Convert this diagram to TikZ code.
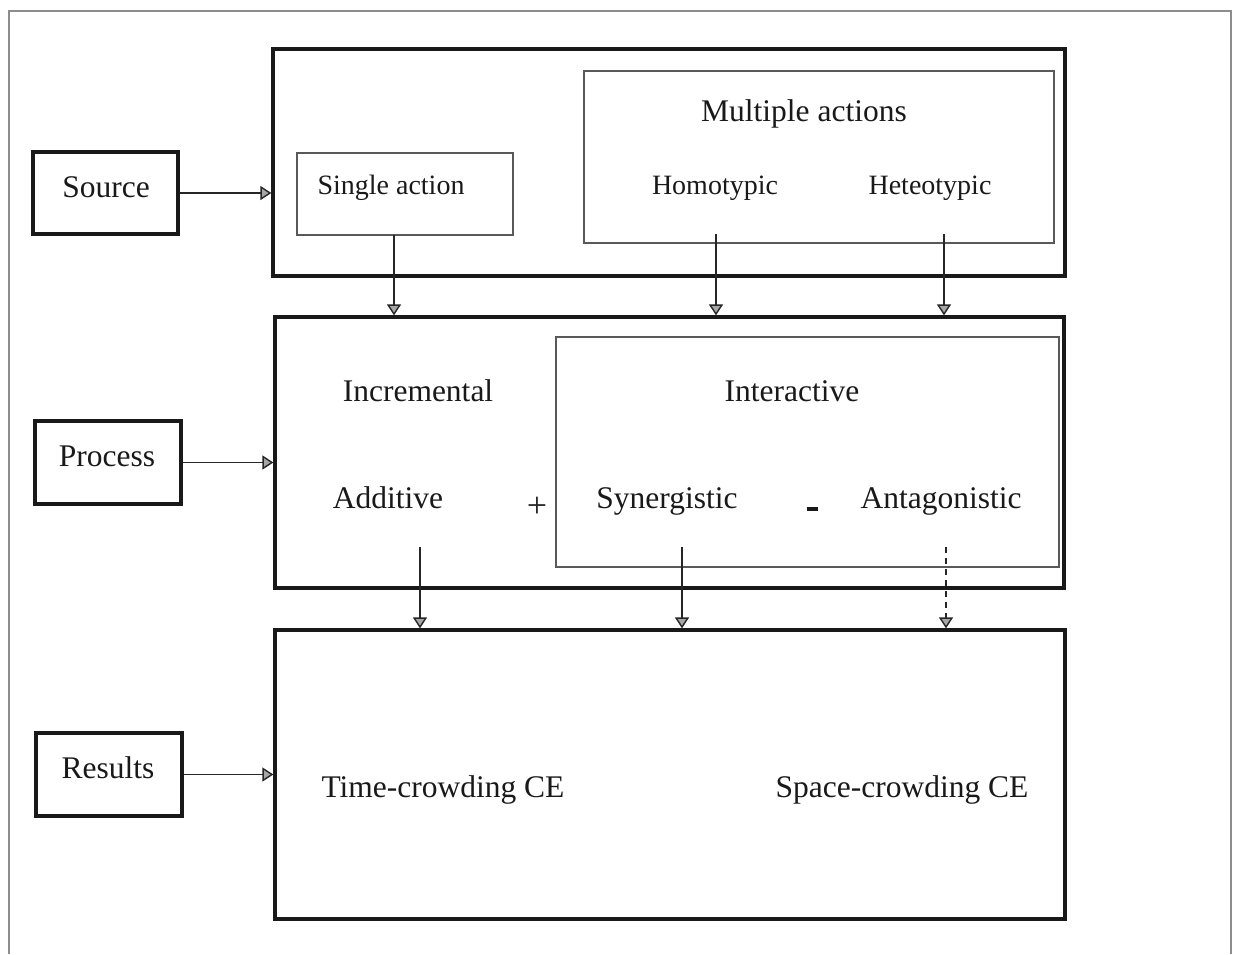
\documentclass[tikz,border=0pt]{standalone}
\usepackage{fontspec}
\setmainfont{Liberation Serif}
\usetikzlibrary{arrows.meta}
\begin{document}
\begin{tikzpicture}[x=1pt,y=-1pt,
  frame/.style={draw=black!45, line width=1.4pt},
  heavy/.style={draw=black!90, line width=3.3pt, inner sep=0pt},
  light/.style={draw=black!65, line width=1.5pt, inner sep=0pt},
  big/.style={font=\fontsize{31.5}{36}\selectfont},
  small/.style={font=\fontsize{28}{32}\selectfont},
  lbl/.style={anchor=base, inner sep=0pt, text=black!90},
  link/.style={draw=black!85, line width=1.4pt,
    -{Triangle[length=11pt, width=14pt, line width=1.4pt, fill=black!35]}},
  dashedlink/.style={link, dash pattern=on 6pt off 5pt},
]
\useasboundingbox (0,0) rectangle (1237,954);

% page frame (open at the bottom)
\draw[frame] (9,954) -- (9,11) -- (1231,11) -- (1231,954);

% stage labels on the left
\node[heavy, minimum width=145pt, minimum height=82pt] (srcbox) at (105.5,193) {};
\node[heavy, minimum width=146pt, minimum height=83pt] (procbox) at (108,462.5) {};
\node[heavy, minimum width=146pt, minimum height=83pt] (resbox) at (109,774.5) {};
\node[lbl, big] (srctxt) at (106,197) {Source};
\node[lbl, big] (proctxt) at (107,466) {Process};
\node[lbl, big] (restxt) at (108,778) {Results};

% the three stage panels
\node[heavy, minimum width=792pt, minimum height=227pt] (srclayer) at (669,162.5) {};
\node[heavy, minimum width=789pt, minimum height=271pt] (proclayer) at (669.5,452.5) {};
\node[heavy, minimum width=790pt, minimum height=289pt] (reslayer) at (670,774.5) {};

% source panel contents
\node[light, minimum width=216pt, minimum height=82pt] (single) at (405,194) {};
\node[light, minimum width=470pt, minimum height=172pt] (multi) at (819,157) {};
\node[lbl, small] (singletxt) at (391,194) {Single action};
\node[lbl, big] (multitxt) at (804,121) {Multiple actions};
\node[lbl, small] (homo) at (715,194) {Homotypic};
\node[lbl, small] (hetero) at (930,194) {Heteotypic};

% process panel contents
\node[light, minimum width=503pt, minimum height=230pt] (inter) at (807.5,452) {};
\node[lbl, big] (incr) at (418,401) {Incremental};
\node[lbl, big] (intertxt) at (792,401) {Interactive};
\node[lbl, big] (add) at (388,508) {Additive};
\node[lbl, big] (syn) at (667,508) {Synergistic};
\node[lbl, big] (ant) at (941,508) {Antagonistic};
\node[inner sep=0pt, font=\fontsize{36}{40}\selectfont, text=black!85] (plus) at (537,507) {+};
\node[inner sep=0pt, text=black!90] (minus) at (812,509) {\rule{11pt}{4pt}};

% results panel contents
\node[lbl, big] (timece) at (443,797) {Time-crowding CE};
\node[lbl, big] (spacece) at (902,797) {Space-crowding CE};

% stage label arrows
\draw[link] (srcbox.east) -- (srcbox.east -| srclayer.west);
\draw[link] (procbox.east) -- (procbox.east -| proclayer.west);
\draw[link] (resbox.east) -- (resbox.east -| reslayer.west);

% source -> process
\coordinate (a1) at (394,235);
\coordinate (a2) at (716,234);
\coordinate (a3) at (944,234);
\draw[link] (a1) -- (a1 |- proclayer.north);
\draw[link] (a2) -- (a2 |- proclayer.north);
\draw[link] (a3) -- (a3 |- proclayer.north);

% process -> results
\coordinate (b1) at (420,547);
\coordinate (b2) at (682,547);
\coordinate (b3) at (946,547);
\draw[link] (b1) -- (b1 |- reslayer.north);
\draw[link] (b2) -- (b2 |- reslayer.north);
\draw[dashedlink] (b3) -- (b3 |- reslayer.north);
\end{tikzpicture}
\end{document}
